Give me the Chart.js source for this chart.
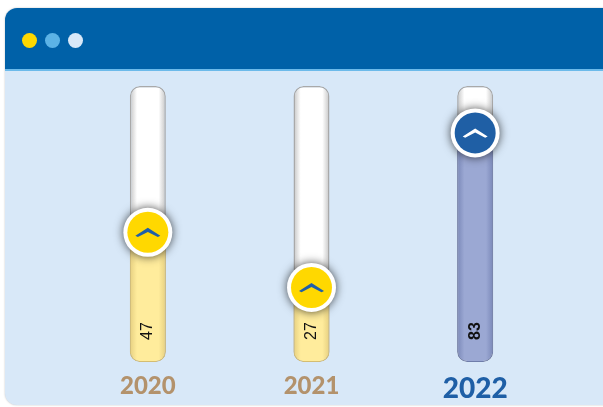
<!DOCTYPE html>
<html>
<head>
<meta charset="utf-8">
<script src="https://cdn.jsdelivr.net/npm/chart.js@4/dist/chart.umd.min.js"></script>
<style>
  html, body { margin: 0; padding: 0; background: #fff; }
  #stage { position: relative; width: 603px; height: 407px; overflow: hidden; background: #fff; }
  #win {
    position: absolute; left: 5px; top: 8px; width: 640px; height: 397px;
    background: #d8e8f8; border-radius: 12px; overflow: hidden;
    box-shadow: 0 0 2px rgba(0, 0, 0, 0.25);
  }
  #bar {
    position: absolute; left: 0; top: 0; right: 0; height: 61px;
    background: #0061a8; border-bottom: 2px solid #6cbaea;
  }
  .dot { position: absolute; top: 25px; width: 15px; height: 15px; border-radius: 50%; }
  #chart { position: absolute; left: 0; top: 0; }
</style>
</head>
<body>
<div id="stage">
  <div id="win">
    <div id="bar">
      <div class="dot" style="left:17px;background:#ffd800;"></div>
      <div class="dot" style="left:40px;background:#5cb3e6;"></div>
      <div class="dot" style="left:63px;background:#d8e8f8;"></div>
    </div>
  </div>
  <canvas id="chart" width="603" height="407"></canvas>
</div>
<script>
const years = ["2020", "2021", "2022"];
const values = [47, 27, 83];
const trackMax = [100, 100, 100];

const yearColors = ["#b3926c", "#b3926c", "#1f5fa6"];
const BAR_PCT = 0.22;

// horizontal shading across a bar, edges darker than the middle
function shade(ctx, edge, mid) {
  const chart = ctx.chart;
  const xs = chart.scales.x;
  if (!chart.chartArea || !xs) return mid;
  const x = xs.getPixelForValue(ctx.dataIndex);
  const half = (xs.width / years.length) * BAR_PCT / 2;
  const g = chart.ctx.createLinearGradient(x - half, 0, x + half, 0);
  g.addColorStop(0, edge);
  g.addColorStop(0.2, mid);
  g.addColorStop(0.8, mid);
  g.addColorStop(1, edge);
  return g;
}

const knobs = {
  id: "knobs",
  afterDatasetsDraw(chart) {
    const c = chart.ctx;
    const meta = chart.getDatasetMeta(0);
    meta.data.forEach((el, i) => {
      const x = el.x, y = el.y;
      const last = i === values.length - 1;
      c.save();
      // dark glow + white ring
      c.shadowColor = "rgba(0,0,0,0.7)";
      c.shadowBlur = 10;
      c.beginPath();
      c.arc(x, y, 24.5, 0, Math.PI * 2);
      c.fillStyle = "#ffffff";
      c.fill();
      c.shadowColor = "transparent";
      c.beginPath();
      c.arc(x, y, 20.5, 0, Math.PI * 2);
      c.fillStyle = last ? "#1f5fa5" : "#ffd800";
      c.fill();
      // chevron
      c.beginPath();
      c.moveTo(x - 12.5, y + 3.5);
      c.lineTo(x, y - 4.5);
      c.lineTo(x + 12.5, y + 3.5);
      c.lineTo(x + 10, y + 4.8);
      c.lineTo(x, y - 0.4);
      c.lineTo(x - 10, y + 4.8);
      c.closePath();
      c.fillStyle = last ? "#ffffff" : "#1f5fa8";
      c.fill();
      c.restore();

      // value, rotated, near the bottom of the bar
      c.save();
      c.translate(x, el.base - 31);
      c.rotate(-Math.PI / 2);
      c.font = (last ? "bold " : "") + "16px 'Liberation Sans', Arial, sans-serif";
      c.fillStyle = "#111";
      c.textAlign = "center";
      c.textBaseline = "middle";
      c.fillText(String(values[i]), 0, 0);
      c.restore();
    });
  }
};

new Chart(document.getElementById("chart"), {
  type: "bar",
  data: {
    labels: years,
    datasets: [
      {
        label: "value",
        data: values,
        order: 0,
        grouped: false,
        barPercentage: BAR_PCT,
        categoryPercentage: 1,
        borderRadius: 10,
        borderSkipped: false,
        borderWidth: 1,
        borderColor: (ctx) => ctx.dataIndex === 2 ? "#6f7daa" : "#d4bd72",
        backgroundColor: (ctx) => ctx.dataIndex === 2
          ? shade(ctx, "#7a88b8", "#9ba8d3")
          : shade(ctx, "#e6cf80", "#ffec9c"),
      },
      {
        label: "track",
        data: trackMax,
        order: 1,
        grouped: false,
        barPercentage: BAR_PCT,
        categoryPercentage: 1,
        borderRadius: 10,
        borderSkipped: false,
        borderWidth: 1.5,
        borderColor: "#a9a9a9",
        backgroundColor: (ctx) => shade(ctx, "#c4c4c4", "#ffffff"),
      }
    ]
  },
  options: {
    responsive: false,
    animation: false,
    events: [],
    layout: { padding: { left: 66, right: 46, top: 86, bottom: 0 } },
    plugins: { legend: { display: false }, tooltip: { enabled: false } },
    scales: {
      y: { min: 0, max: 100, display: false },
      x: {
        afterFit: (scale) => { scale.height = 45; },
        grid: { display: false, drawTicks: false },
        border: { display: false },
        ticks: {
          padding: 10,
          color: (ctx) => yearColors[ctx.index],
          font: (ctx) => ({
            family: "Lato, 'Open Sans', sans-serif",
            weight: 900,
            size: ctx.index === 2 ? 28 : 24
          })
        }
      }
    }
  },
  plugins: [knobs]
});
</script>
</body>
</html>
